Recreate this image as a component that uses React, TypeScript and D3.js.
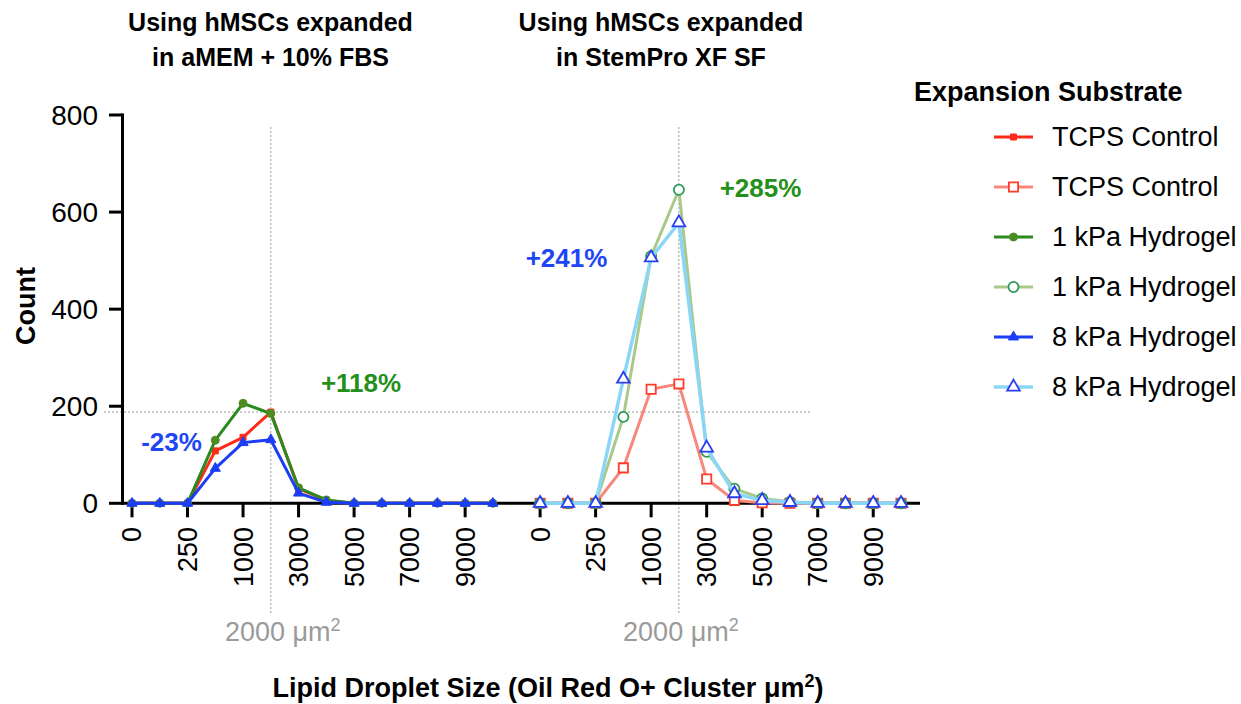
import React from "react";
import * as d3 from "d3";

// Size bins (µm²) shared by both panels
const bins = ["0", "100", "250", "500", "1000", "2000", "3000", "4000", "5000", "6000", "7000", "8000", "9000", "10000"];
const labeledBins = ["0", "250", "1000", "3000", "5000", "7000", "9000"];

// Left panel: hMSCs expanded in aMEM + 10% FBS
const tcpsFbs = [0, 0, 0, 108, 136, 188, 30, 6, 0, 0, 0, 0, 0, 0];
const kpa1Fbs = [0, 0, 0, 130, 206, 185, 32, 7, 0, 0, 0, 0, 0, 0];
const kpa8Fbs = [0, 0, 0, 72, 125, 131, 21, 2, 0, 0, 0, 0, 0, 0];

// Right panel: hMSCs expanded in StemPro XF SF
const tcpsXf = [0, 0, 0, 73, 235, 246, 50, 6, 1, 0, 0, 0, 0, 0];
const kpa1Xf = [0, 0, 0, 178, 509, 646, 106, 30, 10, 3, 0, 0, 0, 0];
const kpa8Xf = [0, 0, 0, 256, 506, 578, 114, 20, 6, 2, 0, 0, 0, 0];

const yTicks = [0, 200, 400, 600, 800];
const legendLabels = ["TCPS Control", "TCPS Control", "1 kPa Hydrogel", "1 kPa Hydrogel", "8 kPa Hydrogel", "8 kPa Hydrogel"];
const panelTitles = [
  ["Using hMSCs expanded", "in aMEM + 10% FBS"],
  ["Using hMSCs expanded", "in StemPro XF SF"],
];

const FONT = "'Liberation Sans', Arial, Helvetica, sans-serif";
const PANEL_OFFSET = 14.7; // slot gap between the two panels

type Style = {
  line: string;
  marker: string;
  fill: string;
  symbol: d3.SymbolType;
  size: number;
  width: number;
};

const styles: Style[] = [
  { line: "#ff2a1a", marker: "#ff2a1a", fill: "#ff2a1a", symbol: d3.symbolSquare, size: 36, width: 3 },
  { line: "#f8887e", marker: "#ff3b2b", fill: "#ffffff", symbol: d3.symbolSquare, size: 85, width: 3 },
  { line: "#2b8a1f", marker: "#4c8c22", fill: "#4c8c22", symbol: d3.symbolCircle, size: 50, width: 3 },
  { line: "#a9c98b", marker: "#2f9a58", fill: "#ffffff", symbol: d3.symbolCircle, size: 80, width: 3 },
  { line: "#1b3df7", marker: "#1b3df7", fill: "#1b3df7", symbol: d3.symbolTriangle, size: 45, width: 3 },
  { line: "#8ad6f6", marker: "#2a3cf0", fill: "#ffffff", symbol: d3.symbolTriangle, size: 70, width: 3.5 },
];

const x = d3.scaleLinear().domain([0, 13 + PANEL_OFFSET]).range([132, 901]);
const y = d3.scaleLinear().domain([0, 800]).range([503.3, 115]);

function Series({ values, offset, style }: { values: number[]; offset: number; style: Style }) {
  const line = d3
    .line<number>()
    .x((_, i) => x(i + offset))
    .y((v) => y(v));
  const sym = d3.symbol().type(style.symbol).size(style.size)();
  return (
    <g>
      <path d={line(values) ?? ""} fill="none" stroke={style.line} strokeWidth={style.width} strokeLinejoin="round" />
      {values.map((v, i) => (
        <path
          key={i}
          d={sym ?? ""}
          transform={`translate(${x(i + offset)},${y(v)})`}
          fill={style.fill}
          stroke={style.marker}
          strokeWidth={style.fill === "#ffffff" ? 1.8 : 1}
        />
      ))}
    </g>
  );
}

export default function App() {
  const refBin = bins.indexOf("2000");
  const refY = y(tcpsFbs[refBin]);
  const panels = [0, PANEL_OFFSET];
  const labelShift = [12, 2];
  const titleX = [270.5, 661];

  return (
    <svg width={1241} height={704} style={{ display: "block", position: "absolute", left: 0, top: 0 }} fontFamily={FONT}>
      <rect width={1241} height={704} fill="#ffffff" />

      {/* panel titles */}
      {panelTitles.map((t, p) => (
        <text key={p} x={titleX[p]} textAnchor="middle" fontWeight="bold" fontSize={25} fill="#000">
          <tspan x={titleX[p]} y={31}>{t[0]}</tspan>
          <tspan x={titleX[p]} y={66}>{t[1]}</tspan>
        </text>
      ))}

      {/* reference guides: 2000 µm² bin and TCPS level */}
      {panels.map((off, p) => (
        <g key={p}>
          <line x1={x(refBin + off)} x2={x(refBin + off)} y1={127} y2={613} stroke="#9a9a9a" strokeWidth={1} strokeDasharray="2,2" />
          <text x={x(refBin + off) + labelShift[p]} y={641} textAnchor="middle" fontSize={27} fill="#9a9a9a">
            2000 μm<tspan dy={-10} fontSize={18}>2</tspan>
          </text>
        </g>
      ))}
      <line x1={104} x2={812} y1={refY} y2={refY} stroke="#9a9a9a" strokeWidth={1} strokeDasharray="2,2" />

      {/* y axis */}
      <line x1={122.5} x2={122.5} y1={y(800) - 1.5} y2={y(0) + 1.5} stroke="#000" strokeWidth={3} />
      {yTicks.map((t) => (
        <g key={t}>
          <line x1={109} x2={122.5} y1={y(t)} y2={y(t)} stroke="#000" strokeWidth={3} />
          <text x={98} y={y(t)} dy="0.35em" textAnchor="end" fontSize={28}>{t}</text>
        </g>
      ))}
      <text transform={`translate(35,306) rotate(-90)`} textAnchor="middle" fontWeight="bold" fontSize={27}>Count</text>

      {/* x axis */}
      <line x1={121} x2={920} y1={y(0)} y2={y(0)} stroke="#000" strokeWidth={3} />
      {panels.map((off, p) =>
        labeledBins.map((b) => {
          const cx = x(bins.indexOf(b) + off);
          return (
            <g key={`${p}-${b}`}>
              <line x1={cx} x2={cx} y1={y(0)} y2={y(0) + 14} stroke="#000" strokeWidth={3} />
              <text transform={`translate(${cx},527) rotate(-90)`} textAnchor="end" dy="0.35em" fontSize={27}>{b}</text>
            </g>
          );
        })
      )}
      <text x={548} y={697} textAnchor="middle" fontWeight="bold" fontSize={27}>
        Lipid Droplet Size (Oil Red O+ Cluster  μm<tspan dy={-10} fontSize={18}>2</tspan><tspan dy={10}>)</tspan>
      </text>

      {/* series */}
      <Series values={tcpsFbs} offset={0} style={styles[0]} />
      <Series values={kpa1Fbs} offset={0} style={styles[2]} />
      <Series values={kpa8Fbs} offset={0} style={styles[4]} />
      <Series values={tcpsXf} offset={PANEL_OFFSET} style={styles[1]} />
      <Series values={kpa1Xf} offset={PANEL_OFFSET} style={styles[3]} />
      <Series values={kpa8Xf} offset={PANEL_OFFSET} style={styles[5]} />

      {/* change annotations */}
      <text x={361} y={392} textAnchor="middle" fontWeight="bold" fontSize={26} fill="#24901a">+118%</text>
      <text x={171.5} y={451} textAnchor="middle" fontWeight="bold" fontSize={26} fill="#1e46f5">-23%</text>
      <text x={566.5} y={267} textAnchor="middle" fontWeight="bold" fontSize={26} fill="#1e46f5">+241%</text>
      <text x={760.5} y={197} textAnchor="middle" fontWeight="bold" fontSize={26} fill="#24901a">+285%</text>

      {/* legend */}
      <text x={914} y={101} fontWeight="bold" fontSize={27}>Expansion Substrate</text>
      {legendLabels.map((label, i) => {
        const ly = 137 + i * 50;
        const s = styles[i];
        const sym = d3.symbol().type(s.symbol).size(s.size)();
        return (
          <g key={i}>
            <line x1={994} x2={1033} y1={ly} y2={ly} stroke={s.line} strokeWidth={s.width} />
            <path d={sym ?? ""} transform={`translate(1013.5,${ly})`} fill={s.fill} stroke={s.marker} strokeWidth={s.fill === "#ffffff" ? 1.8 : 1} />
            <text x={1052} y={ly} dy="0.35em" fontSize={27}>{label}</text>
          </g>
        );
      })}
    </svg>
  );
}
